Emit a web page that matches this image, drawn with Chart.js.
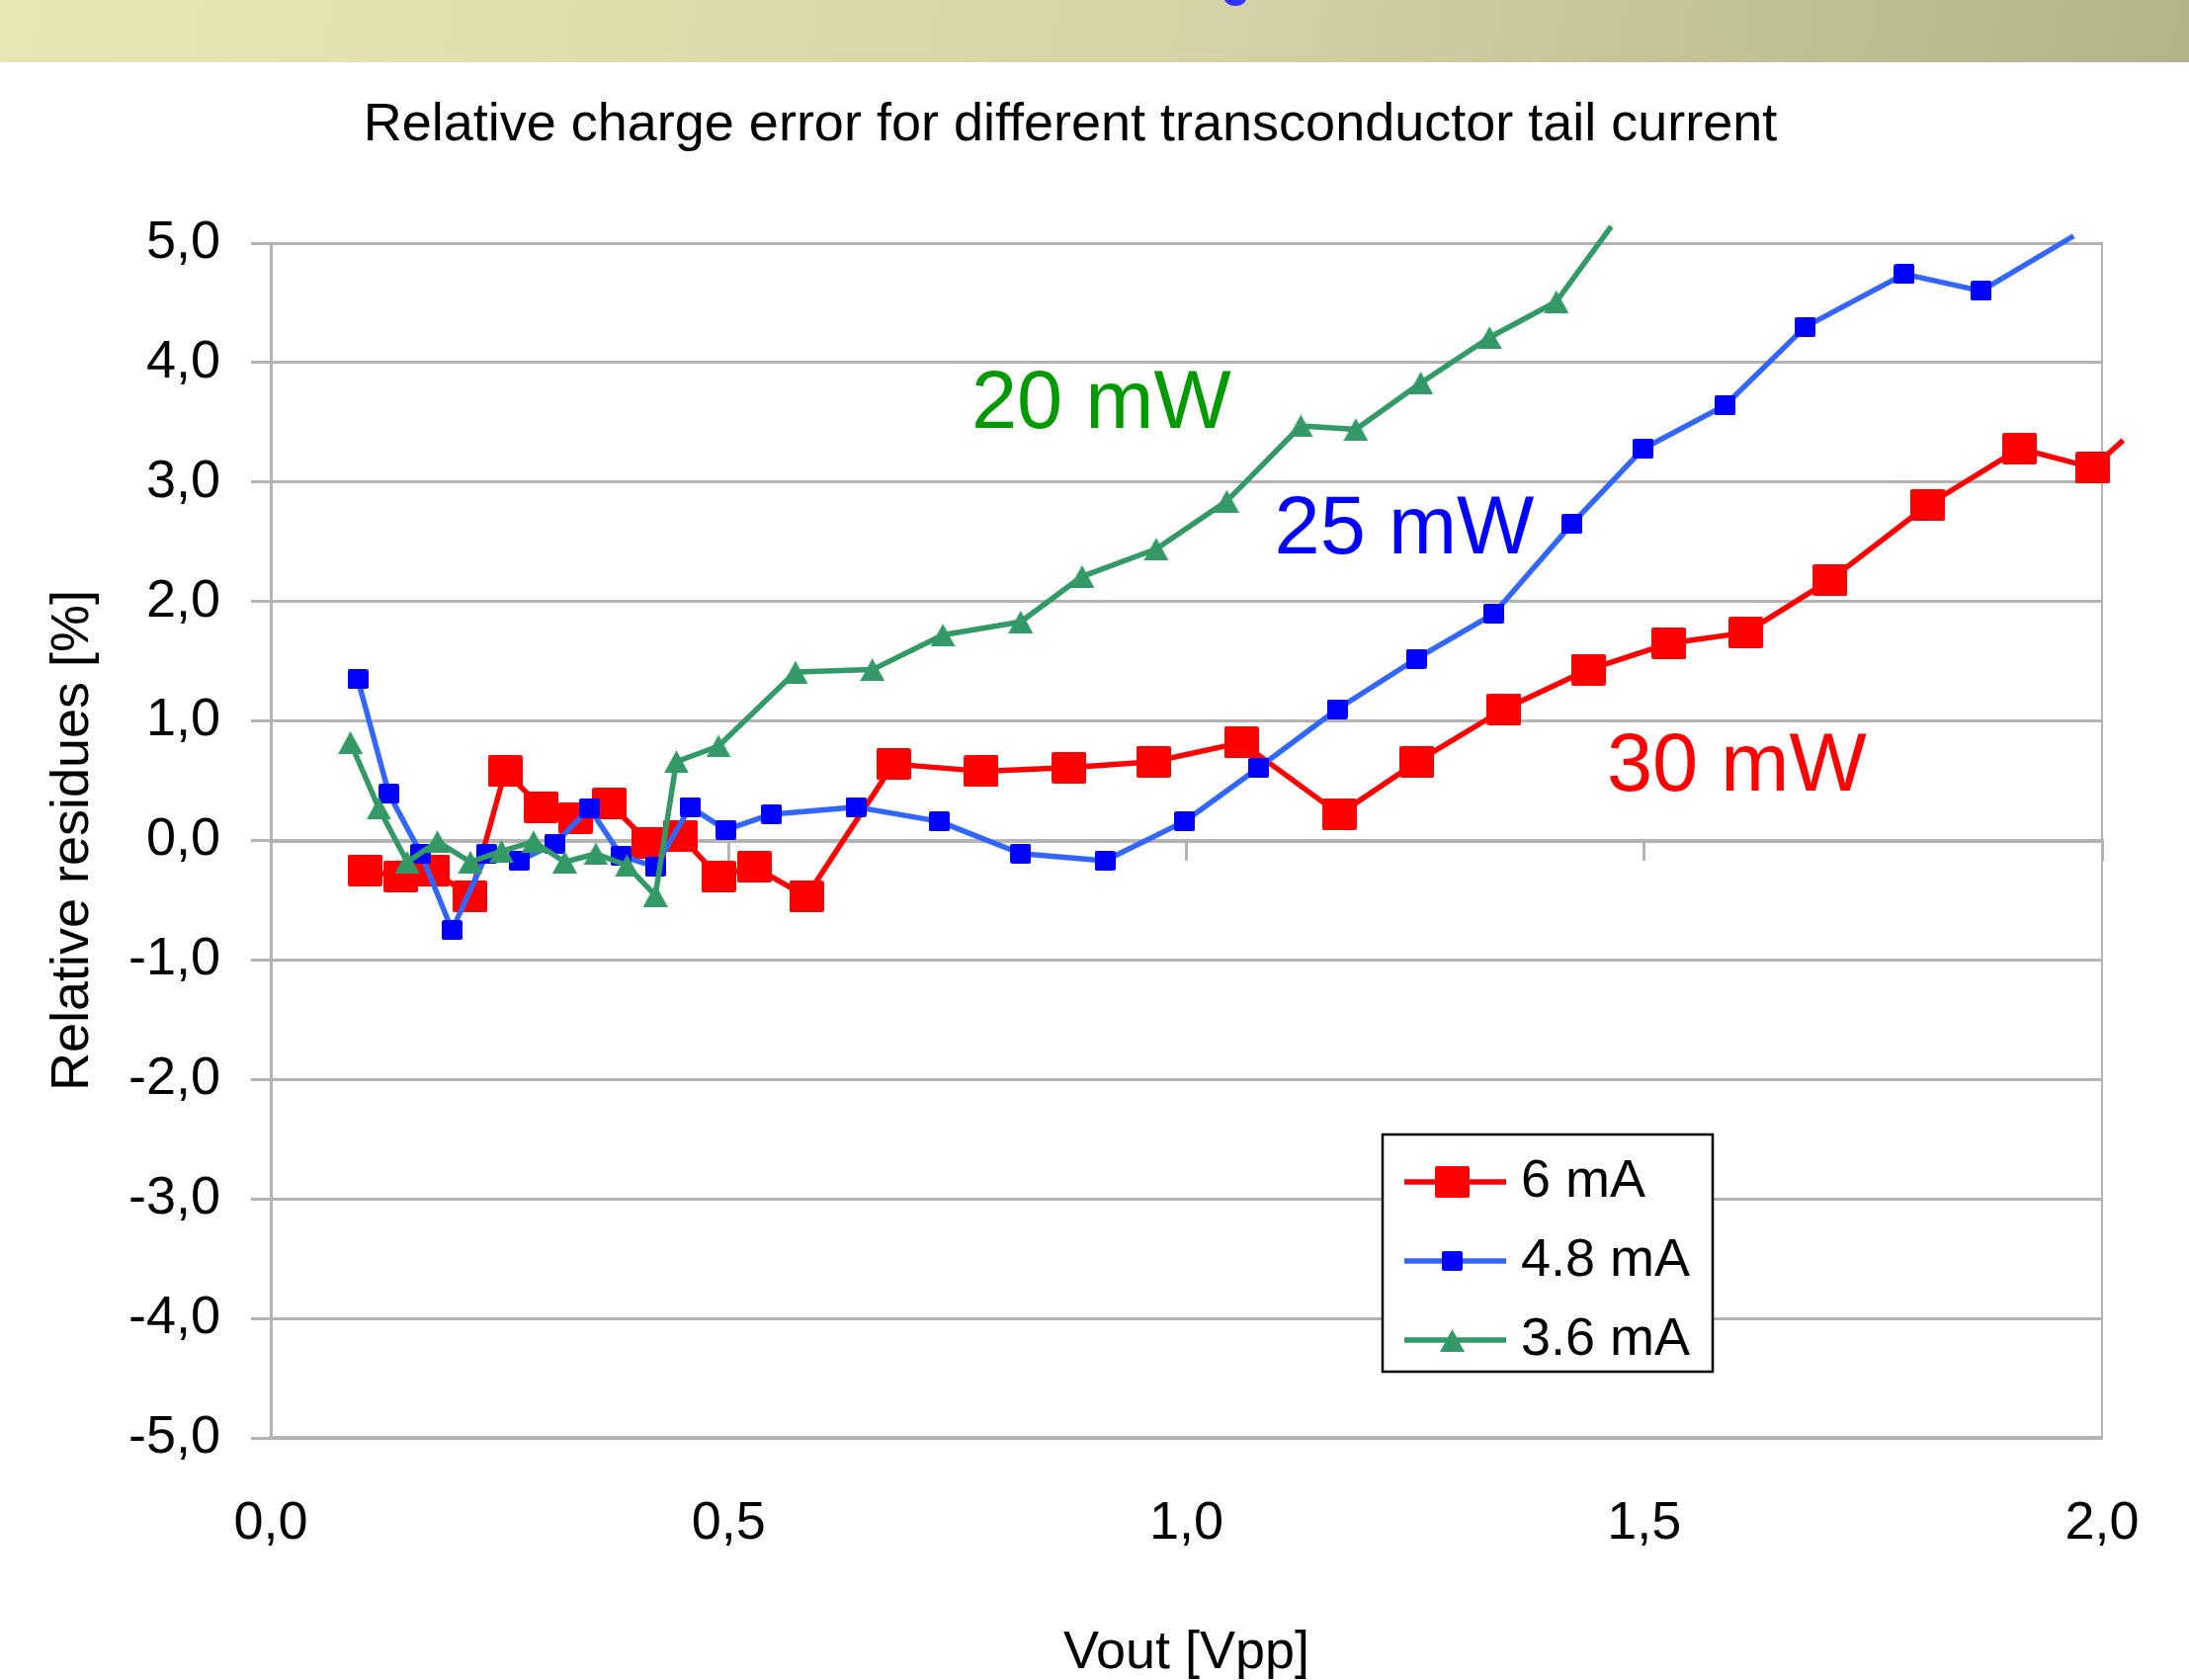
<!DOCTYPE html>
<html>
<head>
<meta charset="utf-8">
<script src="https://cdn.jsdelivr.net/npm/chart.js@4.4.1/dist/chart.umd.min.js"></script>
<style>
  html, body { margin: 0; padding: 0; background: #fff; overflow: hidden; }
  #banner { position: absolute; left: 0; top: 0; width: 2215px; height: 63px;
    background: linear-gradient(100deg, #e8e7b4 0%, #d4d3a5 55%, #b2b389 100%); }
  #glyph { position: absolute; left: 1239px; top: -9px; width: 22px; height: 15px;
    border-radius: 50%; background: #3333ff; }
  #chart { position: absolute; left: 0; top: 0; }
</style>
</head>
<body>
<div id="banner"></div>
<div id="glyph"></div>
<canvas id="chart" width="2215" height="1700"></canvas>
<script>
// series (Vout [Vpp] vs relative residues [%])
const seriesLabels = ['6 mA', '4.8 mA', '3.6 mA'];

const red_x = [0.103, 0.142, 0.177, 0.218, 0.256, 0.295, 0.333, 0.370, 0.413, 0.447, 0.489, 0.528, 0.585,
  0.680, 0.776, 0.872, 0.964, 1.060, 1.167, 1.252, 1.347, 1.439, 1.527, 1.611, 1.703, 1.810, 1.910, 1.990, 2.023];
const red_y = [-0.25, -0.30, -0.25, -0.47, 0.58, 0.28, 0.19, 0.31, -0.02, 0.04, -0.30, -0.22, -0.47,
  0.64, 0.58, 0.61, 0.66, 0.82, 0.22, 0.66, 1.10, 1.43, 1.65, 1.74, 2.18, 2.81, 3.28, 3.12, 3.35];

const blue_x = [0.095, 0.129, 0.164, 0.198, 0.236, 0.271, 0.310, 0.348, 0.383, 0.420, 0.458, 0.497, 0.547,
  0.639, 0.730, 0.819, 0.911, 0.998, 1.079, 1.165, 1.251, 1.336, 1.421, 1.499, 1.588, 1.676, 1.784, 1.868, 1.969];
const blue_y = [1.35, 0.39, -0.11, -0.75, -0.11, -0.17, -0.03, 0.27, -0.13, -0.22, 0.28, 0.09, 0.22,
  0.28, 0.16, -0.11, -0.17, 0.16, 0.61, 1.10, 1.52, 1.90, 2.65, 3.28, 3.64, 4.30, 4.74, 4.60, 5.06];

const green_x = [0.087, 0.118, 0.149, 0.182, 0.218, 0.252, 0.287, 0.321, 0.355, 0.389, 0.420, 0.443, 0.489,
  0.573, 0.657, 0.734, 0.819, 0.886, 0.967, 1.044, 1.125, 1.185, 1.256, 1.331, 1.404, 1.464];
const green_y = [0.82, 0.27, -0.18, -0.01, -0.18, -0.09, -0.01, -0.18, -0.11, -0.21, -0.46, 0.66, 0.79,
  1.41, 1.43, 1.72, 1.83, 2.21, 2.44, 2.84, 3.47, 3.44, 3.83, 4.21, 4.51, 5.14];

const xTickLabels = ['0,0', '0,5', '1,0', '1,5', '2,0'];
const yTickLabels = ['-5,0', '-4,0', '-3,0', '-2,0', '-1,0', '0,0', '1,0', '2,0', '3,0', '4,0', '5,0'];

const powerLabels = ['20 mW', '25 mW', '30 mW'];
const powerLabelX = [0.907, 1.238, 1.601];
const powerLabelY = [3.70, 2.65, 0.665];
const powerColors = ['#009900', '#0000ff', '#ff0000'];

const FONT = "'Liberation Sans', Arial, Helvetica, sans-serif";
Chart.defaults.font.family = FONT;
Chart.defaults.color = '#000';

// marker images (Excel style squares / triangle)
function marker(w, h, color, shape) {
  const c = document.createElement('canvas');
  c.width = w; c.height = h;
  const g = c.getContext('2d');
  g.fillStyle = color;
  g.beginPath();
  if (shape === 'triangle') {
    g.moveTo(w / 2, 0); g.lineTo(w, h); g.lineTo(0, h); g.closePath();
  } else if (g.roundRect) {
    g.roundRect(0, 0, w, h, 2);
  } else {
    g.rect(0, 0, w, h);
  }
  g.fill();
  return c;
}

const inRange = ctx => ctx.raw && ctx.raw.x <= 2 && ctx.raw.y <= 5;

function series(label, xs, ys, lineColor, img, order) {
  return {
    label: label,
    data: xs.map((x, i) => ({ x: x, y: ys[i] })),
    showLine: true,
    borderColor: lineColor,
    backgroundColor: lineColor,
    borderWidth: 5.5,
    borderJoinStyle: 'round',
    pointStyle: img,
    pointRadius: ctx => inRange(ctx) ? 12 : 0,
    pointHoverRadius: 0,
    clip: false,
    order: order
  };
}

const overlay = {
  id: 'overlay',
  afterLayout(chart) {
    // title sits a little left of the page centre in the original
    chart.titleBlock.left = 0;
    chart.titleBlock.right = 2166;
  },
  afterDatasetsDraw(chart) {
    const { ctx, chartArea: a } = chart;
    const xs = chart.scales.x, ys = chart.scales.y;
    ctx.save();
    // power annotations
    ctx.font = '83px ' + FONT;
    ctx.textAlign = 'center';
    ctx.textBaseline = 'alphabetic';
    powerLabels.forEach((t, i) => {
      ctx.fillStyle = powerColors[i];
      ctx.fillText(t, xs.getPixelForValue(powerLabelX[i]), ys.getPixelForValue(powerLabelY[i]) + 83 * 0.358);
    });
    // legend box
    const L = a.left + 1125, T = a.top + 902, W = 334, H = 240;
    ctx.fillStyle = '#fff';
    ctx.fillRect(L, T, W, H);
    ctx.lineWidth = 2.5;
    ctx.strokeStyle = '#000';
    ctx.strokeRect(L, T, W, H);
    chart.data.datasets.forEach((ds, i) => {
      const cy = T + 48 + i * 80;
      ctx.strokeStyle = ds.borderColor;
      ctx.lineWidth = 5.5;
      ctx.beginPath();
      ctx.moveTo(L + 22, cy);
      ctx.lineTo(L + 125, cy);
      ctx.stroke();
      const img = ds.pointStyle;
      ctx.drawImage(img, Math.round(L + 70 - img.width / 2), Math.round(cy - img.height / 2));
      ctx.fillStyle = '#000';
      ctx.font = '54px ' + FONT;
      ctx.textAlign = 'left';
      ctx.textBaseline = 'middle';
      ctx.fillText(seriesLabels[i], L + 140, cy);
    });
    ctx.restore();
  }
};

new Chart(document.getElementById('chart'), {
  type: 'scatter',
  data: {
    datasets: [
      series(seriesLabels[0], red_x, red_y, '#ff0000', marker(35, 32, '#ff0000', 'rect'), 3),
      series(seriesLabels[1], blue_x, blue_y, '#3366ff', marker(21, 20, '#0000ff', 'rect'), 2),
      series(seriesLabels[2], green_x, green_y, '#339966', marker(25, 23, '#339966', 'triangle'), 1)
    ]
  },
  options: {
    responsive: false,
    devicePixelRatio: 1,
    animation: false,
    layout: { padding: { left: 0, right: 88, top: 0, bottom: 0 } },
    plugins: {
      legend: { display: false },
      tooltip: { enabled: false },
      title: {
        display: true,
        text: 'Relative charge error for different transconductor tail current',
        font: { size: 54, weight: 'normal', lineHeight: 1.2 },
        color: '#000',
        padding: { top: 94.6, bottom: 86.6 }
      }
    },
    scales: {
      x: {
        type: 'linear',
        position: 'bottom',
        min: 0, max: 2,
        ticks: { stepSize: 0.5, autoSkip: false, maxRotation: 0, padding: 47, font: { size: 54 },
          callback: (v, i) => xTickLabels[i] },
        grid: { display: false },
        border: { display: true, color: '#b3b3b3', width: 4 },
        title: { display: true, text: 'Vout [Vpp]', font: { size: 54, lineHeight: 1.0 }, padding: { top: 0, bottom: 0 } },
        afterFit: s => { s.height = 245; }
      },
      xz: {
        type: 'linear',
        axis: 'x',
        position: { y: 0 },
        min: 0, max: 2,
        ticks: { stepSize: 0.5, display: false },
        grid: { drawOnChartArea: false, drawTicks: true, tickLength: 18, color: '#b3b3b3', lineWidth: 3 },
        border: { display: true, color: '#b3b3b3', width: 4 }
      },
      y: {
        type: 'linear',
        min: -5, max: 5,
        ticks: { stepSize: 1, autoSkip: false, padding: 31, font: { size: 54 },
          callback: (v, i) => yTickLabels[i] },
        grid: { color: '#b3b3b3', lineWidth: 3, tickLength: 20 },
        border: { color: '#b3b3b3', width: 3 },
        title: { display: true, text: 'Relative residues [%]', font: { size: 54, lineHeight: 1.2 }, padding: { top: 42, bottom: 0 } },
        afterFit: s => { s.width = 274; }
      },
      yr: {
        type: 'linear',
        axis: 'y',
        position: 'right',
        min: -5, max: 5,
        ticks: { display: false },
        grid: { drawOnChartArea: false, drawTicks: false },
        border: { color: '#b3b3b3', width: 2 }
      }
    }
  },
  plugins: [overlay]
});
</script>
</body>
</html>
